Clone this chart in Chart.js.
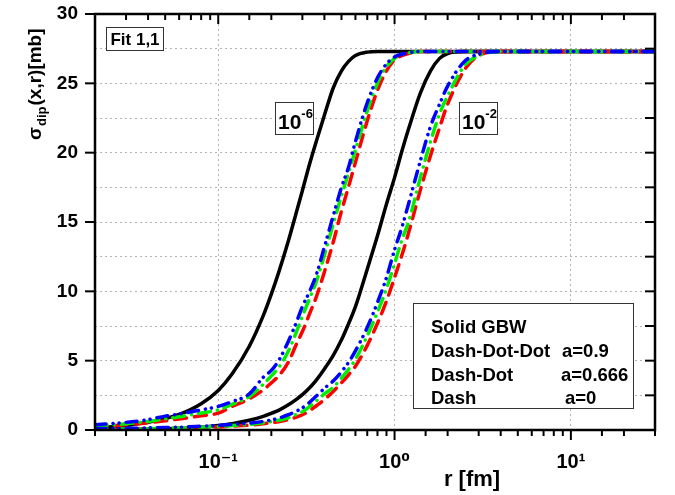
<!DOCTYPE html>
<html>
<head>
<meta charset="utf-8">
<script src="https://cdn.jsdelivr.net/npm/chart.js@4.4.0/dist/chart.umd.min.js"></script>
<style>
html,body{margin:0;padding:0;background:#fff;}
#wrap{width:675px;height:495px;position:relative;}
</style>
</head>
<body>
<div id="wrap"><canvas id="c" width="675" height="495"></canvas></div>
<script>
// ---- data ----
const rValues = [0.02,0.03,0.04,0.05,0.06,0.08,0.1,0.12,0.15,0.18,0.2,0.22,0.25,0.28,0.3,0.33,0.36,0.4,0.45,0.5,0.55,0.6,0.7,0.8,0.9,1.0,1.1,1.2,1.4,1.6,1.8,2.0,2.5,3,4,5,10,20,30];

// x = 1e-6
const gbw_x6  = [0.15,0.33,0.55,0.82,1.12,1.9,2.85,4.05,6.04,8.25,9.8,11.35,13.65,15.88,17.26,19.2,20.83,22.7,24.7,25.9,26.6,27.0,27.25,27.3,27.3,27.3,27.3,27.3,27.3,27.3,27.3,27.3,27.3,27.3,27.3,27.3,27.3,27.3,27.3];
const a09_x6  = [0.38,0.55,0.75,1.0,1.15,1.45,1.7,2.05,2.6,3.8,4.3,5.0,6.4,7.9,8.9,10.0,11.2,13.2,15.5,17.5,19.0,20.8,23.6,25.4,26.4,26.9,27.1,27.2,27.3,27.3,27.3,27.3,27.3,27.3,27.3,27.3,27.3,27.3,27.3];
const a0666_x6 = [0.3,0.45,0.62,0.8,0.95,1.22,1.45,1.85,2.4,3.3,3.9,4.5,5.7,7.2,8.2,9.5,10.7,12.6,14.9,16.9,18.6,20.2,23.0,25.0,26.2,26.8,27.1,27.2,27.3,27.3,27.3,27.3,27.3,27.3,27.3,27.3,27.3,27.3,27.3];
const a0_x6   = [0.25,0.38,0.52,0.66,0.8,1.02,1.22,1.7,2.25,2.9,3.4,3.9,4.9,6.3,7.1,8.4,9.6,11.4,13.6,15.8,17.6,19.3,22.3,24.5,25.9,26.7,27.0,27.15,27.3,27.3,27.3,27.3,27.3,27.3,27.3,27.3,27.3,27.3,27.3];

// x = 1e-2
const gbw_x2  = [0.03,0.05,0.07,0.09,0.12,0.2,0.32,0.45,0.7,0.98,1.2,1.42,1.82,2.25,2.55,3.05,3.6,4.4,5.4,6.5,7.7,8.9,11.6,14.0,16.3,18.2,20.1,21.7,24.3,25.9,26.8,27.15,27.3,27.3,27.3,27.3,27.3,27.3,27.3];
const a09_x2  = [0.1,0.12,0.15,0.18,0.2,0.27,0.33,0.4,0.5,0.62,0.72,0.85,1.1,1.38,1.6,2.0,2.45,3.0,3.55,4.2,4.9,5.7,7.4,9.2,11.0,13.0,14.6,16.3,19.4,21.9,23.5,24.8,26.6,27.1,27.3,27.3,27.3,27.3,27.3];
const a0666_x2 = [0.06,0.08,0.1,0.12,0.15,0.2,0.25,0.32,0.4,0.52,0.6,0.7,0.88,1.15,1.32,1.7,2.1,2.6,3.1,3.75,4.4,5.1,6.8,8.5,10.2,12.0,13.7,15.0,18.2,20.8,22.8,24.1,26.3,27.0,27.3,27.3,27.3,27.3,27.3];
const a0_x2   = [0.05,0.07,0.09,0.11,0.13,0.17,0.22,0.27,0.35,0.45,0.52,0.6,0.75,0.95,1.1,1.4,1.75,2.2,2.8,3.4,4.0,4.6,6.1,7.7,9.3,11.0,12.6,14.2,17.3,19.8,21.8,23.5,26.0,27.0,27.3,27.3,27.3,27.3,27.3];

// axis ranges / ticks
const xRange = [0.02, 30];
const yRange = [0, 30];
const yStep = 2.5;
const yLabelStep = 5;
const xTickLabels = {"-1":"10\u207B\u00B9","0":"10\u2070","1":"10\u00B9"};

// texts
const yTitleMain = "\u03C3";
const yTitleSub = "dip";
const yTitleRest = "(x,r)[mb]";
const xTitle = "r [fm]";
const fitLabel = "Fit 1,1";
const curveLabels = [{base:"10", exp:"-6"}, {base:"10", exp:"-2"}];
const legendLines = [["Solid GBW",""],["Dash-Dot-Dot","a=0.9"],["Dash-Dot","a=0.666"],["Dash","a=0"]];

const FONT = '"Liberation Sans", Arial, "DejaVu Sans", sans-serif';

function pts(vals){ return rValues.map((r,i)=>({x:r, y:vals[i]})); }
function isDecade(v){ const l=Math.log10(v); return Math.abs(l-Math.round(l))<1e-6; }

const base = {fill:false, pointRadius:0, borderWidth:3.5, cubicInterpolationMode:'monotone', borderCapStyle:'round', borderJoinStyle:'round'};
const BLUE='#0000ff', GREEN='#00ee00', RED='#ff0000';
const dDD=[11,7,0.1,6,0.1,7], dD=[12,7,0.1,7], dS=[12,8];

const datasets = [
  Object.assign({label:'a=0.9 x=1e-6', data:pts(a09_x6), borderColor:BLUE, borderDash:dDD}, base),
  Object.assign({label:'a=0.9 x=1e-2', data:pts(a09_x2), borderColor:BLUE, borderDash:dDD}, base),
  Object.assign({label:'a=0.666 x=1e-6', data:pts(a0666_x6), borderColor:GREEN, borderDash:dD}, base),
  Object.assign({label:'a=0.666 x=1e-2', data:pts(a0666_x2), borderColor:GREEN, borderDash:dD}, base),
  Object.assign({label:'a=0 x=1e-6', data:pts(a0_x6), borderColor:RED, borderDash:dS}, base),
  Object.assign({label:'a=0 x=1e-2', data:pts(a0_x2), borderColor:RED, borderDash:dS}, base),
  Object.assign({label:'GBW x=1e-6', data:pts(gbw_x6), borderColor:'#000'}, base),
  Object.assign({label:'GBW x=1e-2', data:pts(gbw_x2), borderColor:'#000'}, base)
];

function line(ctx,x1,y1,x2,y2){ ctx.beginPath(); ctx.moveTo(x1,y1); ctx.lineTo(x2,y2); ctx.stroke(); }

const decor = {
  id:'decor',
  afterDatasetsDraw(chart){
    const ctx=chart.ctx, a=chart.chartArea, xs=chart.scales.x, ys=chart.scales.y;
    ctx.save();
    // frame
    ctx.strokeStyle='#000'; ctx.lineWidth=2.5;
    ctx.strokeRect(a.left,a.top,a.right-a.left,a.bottom-a.top);
    // x ticks (bottom outward, top inward)
    ctx.lineWidth=2;
    xs.ticks.forEach(t=>{
      const px=xs.getPixelForValue(t.value);
      if(px<a.left-0.5||px>a.right+0.5) return;
      const L=isDecade(t.value)?10:6;
      line(ctx,px,a.bottom,px,a.bottom+L);
      line(ctx,px,a.top,px,a.top+L);
    });
    // y ticks (left outward every 5, right inward every 2.5)
    for(let v=yRange[0]; v<=yRange[1]+1e-9; v+=yStep){
      const py=ys.getPixelForValue(v);
      if(Math.abs(v/yLabelStep-Math.round(v/yLabelStep))<1e-9) line(ctx,a.left-10,py,a.left,py);
      line(ctx,a.right-10,py,a.right,py);
    }
    ctx.fillStyle='#000'; ctx.textAlign='left'; ctx.textBaseline='alphabetic';
    // y title
    ctx.save();
    ctx.translate(41,140); ctx.rotate(-Math.PI/2);
    ctx.font='bold 19px '+FONT; ctx.fillText(yTitleMain,0,0);
    let w=ctx.measureText(yTitleMain).width;
    ctx.font='bold 13px '+FONT; ctx.fillText(yTitleSub,w+1,5);
    w+=1+ctx.measureText(yTitleSub).width;
    ctx.font='bold 19px '+FONT; ctx.fillText(yTitleRest,w+1,0);
    ctx.restore();
    // x title
    ctx.font='bold 22px '+FONT; ctx.textAlign='center';
    ctx.fillText(xTitle,472,486);
    // boxes
    function box(x,y,w,h){ ctx.fillStyle='#fff'; ctx.fillRect(x,y,w,h); ctx.strokeStyle='#333'; ctx.lineWidth=1; ctx.strokeRect(x+0.5,y+0.5,w,h); ctx.fillStyle='#000'; }
    box(106,27,57,23);
    ctx.font='bold 17px '+FONT; ctx.textAlign='center';
    ctx.fillText(fitLabel,135,45);
    ctx.textAlign='left';
    [[275,102],[459,102]].forEach((p,i)=>{
      box(p[0],p[1],38,32);
      ctx.font='bold 21px '+FONT; ctx.fillText(curveLabels[i].base,p[0]+3,p[1]+27);
      const bw=ctx.measureText(curveLabels[i].base).width;
      ctx.font='bold 13px '+FONT; ctx.fillText(curveLabels[i].exp,p[0]+3+bw,p[1]+16);
    });
    // legend box
    box(413,303,220,105);
    ctx.font='bold 18.5px '+FONT;
    const ly=[333,357,381,404], rx=[0,562,561,565];
    legendLines.forEach((l,i)=>{
      ctx.fillText(l[0],431,ly[i]);
      if(l[1]) ctx.fillText(l[1],rx[i],ly[i]);
    });
    ctx.restore();
  }
};

Chart.defaults.color='#000';
new Chart(document.getElementById('c'),{
  type:'line',
  data:{datasets},
  options:{
    responsive:false, animation:false, devicePixelRatio:1,
    layout:{padding:{top:14,right:20,left:0,bottom:0}},
    plugins:{legend:{display:false},tooltip:{enabled:false}},
    scales:{
      x:{type:'logarithmic', min:xRange[0], max:xRange[1],
        afterFit(s){ s.height=65; s.paddingLeft=0; s.paddingRight=0; },
        border:{display:false, dash:[2,3]},
        grid:{drawTicks:false, lineWidth:1, color:(c)=> (c.tick && isDecade(c.tick.value))?'#b4b4b4':'rgba(0,0,0,0)'},
        ticks:{autoSkip:false, maxRotation:0, padding:20, color:'#000',
          font:{family:FONT, size:20, weight:'bold'},
          callback:(v)=>{ if(!isDecade(v)) return ''; const k=String(Math.round(Math.log10(v))); return xTickLabels[k]||''; }}
      },
      y:{type:'linear', min:yRange[0], max:yRange[1],
        afterFit(s){ s.width=95; s.paddingTop=0; s.paddingBottom=0; },
        border:{display:false, dash:[2,3]},
        grid:{drawTicks:false, lineWidth:1, color:(c)=> (c.tick && c.tick.value>yRange[0] && c.tick.value<yRange[1])?'#b4b4b4':'rgba(0,0,0,0)'},
        ticks:{stepSize:yStep, padding:17, color:'#000',
          font:{family:FONT, size:19, weight:'bold'},
          callback:(v)=> (Math.abs(v/yLabelStep-Math.round(v/yLabelStep))<1e-9)? String(v):''}
      }
    }
  },
  plugins:[decor]
});
</script>
</body>
</html>
